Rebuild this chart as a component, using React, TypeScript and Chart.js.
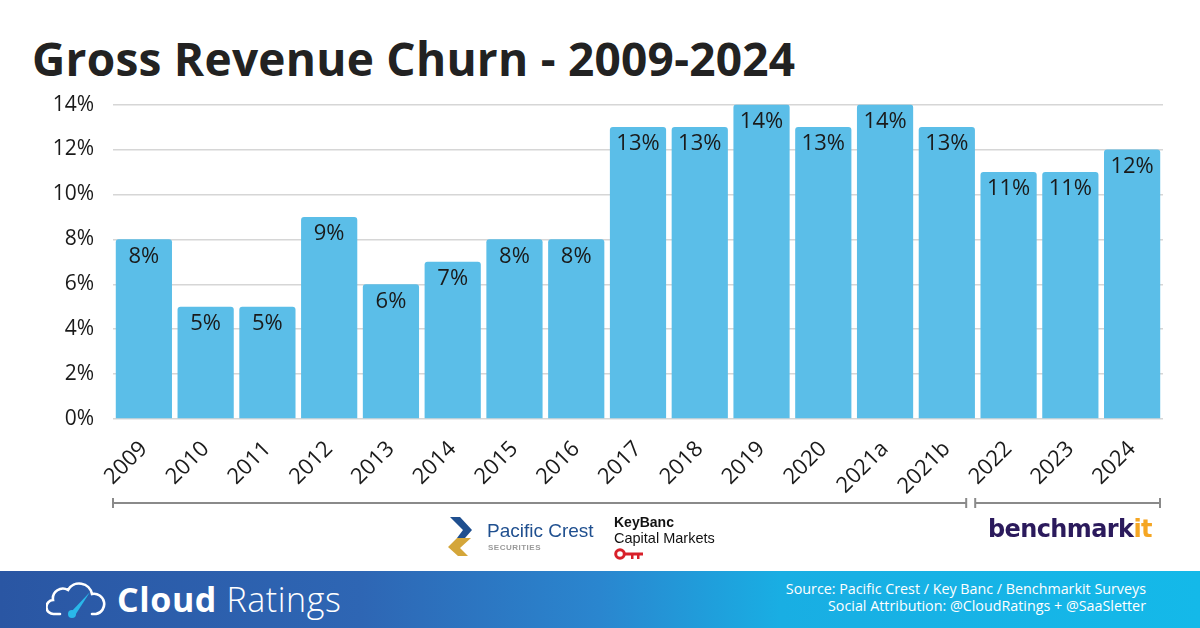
import React, { useEffect, useRef } from "react";
import { Chart, registerables } from "chart.js";

Chart.register(...registerables);

const categories = ["2009", "2010", "2011", "2012", "2013", "2014", "2015", "2016", "2017", "2018", "2019", "2020", "2021a", "2021b", "2022", "2023", "2024"];
const churnValues = [8, 5, 5, 9, 6, 7, 8, 8, 13, 13, 14, 13, 14, 13, 11, 11, 12];
const yTicks = [0, 2, 4, 6, 8, 10, 12, 14];
const titleText = "Gross Revenue Churn - 2009-2024";
const sourceLines = ["Source: Pacific Crest / Key Banc / Benchmarkit Surveys", "Social Attribution: @CloudRatings + @SaaSletter"];
const bracketSplitIndex = 14; // first bracket covers 2009..2021b, second 2022..2024

const FONT = "'Open Sans', 'DejaVu Sans', sans-serif";
const BAR_COLOR = "#5bbee8";

const CANVAS_TOP = 73;
const CANVAS_H = 447;

const labelsPlugin = {
  id: "barLabels",
  afterDatasetsDraw(chart: any) {
    const ctx = chart.ctx;
    const meta = chart.getDatasetMeta(0);
    ctx.save();
    ctx.fillStyle = "#1a1a1a";
    ctx.font = `400 22px ${FONT}`;
    ctx.textAlign = "center";
    ctx.textBaseline = "middle";
    meta.data.forEach((bar: any, i: number) => {
      ctx.fillText(`${churnValues[i]}%`, bar.x, bar.y + 17);
    });
    ctx.restore();
  },
};

const bracketPlugin = {
  id: "brackets",
  afterDraw(chart: any) {
    const ctx = chart.ctx;
    const xs = chart.scales.x;
    const slot = (xs.right - xs.left) / categories.length;
    const y = 503 - CANVAS_TOP;
    const split = xs.left + slot * bracketSplitIndex - 7;
    const segs = [
      [xs.left, split - 4.5],
      [split + 4.5, xs.right - 3],
    ];
    ctx.save();
    ctx.strokeStyle = "#8a8a8a";
    ctx.lineWidth = 2;
    segs.forEach(([a, b]) => {
      ctx.beginPath();
      ctx.moveTo(a, y);
      ctx.lineTo(b, y);
      ctx.moveTo(a, y - 5);
      ctx.lineTo(a, y + 5);
      ctx.moveTo(b, y - 5);
      ctx.lineTo(b, y + 5);
      ctx.stroke();
    });
    ctx.restore();
  },
};

function ChurnChart() {
  const ref = useRef<HTMLCanvasElement | null>(null);
  useEffect(() => {
    if (!ref.current) return;
    const chart = new Chart(ref.current, {
      type: "bar",
      data: {
        labels: categories,
        datasets: [
          {
            data: churnValues,
            backgroundColor: BAR_COLOR,
            borderRadius: 3,
            borderSkipped: "bottom",
            categoryPercentage: 1,
            barPercentage: 0.91,
          },
        ],
      },
      options: {
        animation: false,
        responsive: false,
        maintainAspectRatio: false,
        devicePixelRatio: 1,
        layout: { padding: { left: 0, right: 37, top: 13, bottom: 0 } },
        plugins: { legend: { display: false }, tooltip: { enabled: false } },
        scales: {
          x: {
            grid: { display: false },
            border: { display: false },
            ticks: {
              color: "#1a1a1a",
              font: { family: FONT, size: 22 },
              minRotation: 45,
              maxRotation: 45,
              autoSkip: false,
              padding: 9,
            },
            afterFit(scale: any) {
              scale.height = 101;
            },
          },
          y: {
            min: 0,
            max: 14,
            afterBuildTicks(scale: any) {
              scale.ticks = yTicks.map((v) => ({ value: v }));
            },
            grid: { color: "#d6d6d6", lineWidth: 1.5, drawTicks: false },
            border: { display: false },
            ticks: {
              color: "#1a1a1a",
              font: { family: FONT, size: 21 },
              padding: 19,
              callback: (v: any) => `${v}%`,
            },
            afterFit(scale: any) {
              scale.width = 113;
            },
          },
        },
      },
      plugins: [labelsPlugin, bracketPlugin],
    });
    return () => chart.destroy();
  }, []);
  return (
    <canvas
      ref={ref}
      width={1200}
      height={CANVAS_H}
      style={{ position: "absolute", left: 0, top: CANVAS_TOP, width: 1200, height: CANVAS_H }}
    />
  );
}

function PacificCrestLogo() {
  return (
    <div style={{ position: "absolute", left: 446, top: 514, width: 150, height: 44 }}>
      <svg width="30" height="44" viewBox="0 0 30 44" style={{ position: "absolute", left: 0, top: 0 }}>
        <polygon points="4,3 14,3 26,16 19,24 11,24 17,16" fill="#1f4f8f" />
        <polygon points="17,24 25,24 14,34 22,42 12,42 2,33 11,24" fill="#d4a63a" />
      </svg>
      <div style={{ position: "absolute", left: 41, top: 6, fontFamily: "'Liberation Sans', Arial, sans-serif", fontSize: 19, color: "#1f4f8f", whiteSpace: "nowrap" }}>
        Pacific Crest
      </div>
      <div style={{ position: "absolute", left: 42, top: 29, fontFamily: "'Liberation Sans', Arial, sans-serif", fontSize: 8, fontWeight: 700, color: "#9a9a9a", letterSpacing: 0.5 }}>
        SECURITIES
      </div>
    </div>
  );
}

function KeyBancLogo() {
  return (
    <div style={{ position: "absolute", left: 614, top: 514, width: 110, height: 46, fontFamily: "'Liberation Sans', Arial, sans-serif", color: "#111" }}>
      <div style={{ position: "absolute", left: 0, top: 0, fontSize: 14, fontWeight: 700, whiteSpace: "nowrap" }}>KeyBanc</div>
      <div style={{ position: "absolute", left: 0, top: 16, fontSize: 14.5, whiteSpace: "nowrap" }}>Capital Markets</div>
      <svg width="32" height="12" viewBox="0 0 32 12" style={{ position: "absolute", left: 0, top: 34 }}>
        <circle cx="6" cy="6" r="4.3" fill="none" stroke="#d8202a" strokeWidth="3" />
        <rect x="10" y="4.5" width="19" height="3" fill="#d8202a" />
        <rect x="17" y="7" width="2.5" height="4" fill="#d8202a" />
        <rect x="23" y="7" width="2.5" height="4" fill="#d8202a" />
      </svg>
    </div>
  );
}

function BenchmarkitLogo() {
  return (
    <div style={{ position: "absolute", left: 988, top: 515, fontFamily: "'DejaVu Sans', sans-serif", fontWeight: 700, fontSize: 24, color: "#2b1a5c", whiteSpace: "nowrap", letterSpacing: -0.6 }}>
      benchmark<span style={{ color: "#f5a623" }}>it</span>
    </div>
  );
}

function Footer() {
  return (
    <div
      style={{
        position: "absolute",
        left: 0,
        top: 571,
        width: 1200,
        height: 57,
        background: "linear-gradient(90deg, #2a56a3 0%, #2e66b4 30%, #2a86cf 50%, #19aee3 65%, #14b9e9 100%)",
      }}
    >
      <svg width="60" height="40" viewBox="0 0 60 40" style={{ position: "absolute", left: 46, top: 9 }}>
        <path
          d="M14 34 H8 A7 7 0 0 1 7 20 A10 10 0 0 1 22 10 A13 13 0 0 1 46 14 A10 10 0 0 1 50 34 H46"
          fill="none"
          stroke="#ffffff"
          strokeWidth="2.6"
          strokeLinecap="round"
        />
        <path d="M24 33 L44 12 L28 37 Z" fill="#2ab8ea" />
        <circle cx="26" cy="34" r="4" fill="#2ab8ea" />
      </svg>
      <div style={{ position: "absolute", left: 117, top: 8, fontFamily: "'Open Sans', sans-serif", fontSize: 34, color: "#fff", whiteSpace: "nowrap", lineHeight: "40px", letterSpacing: 0.6 }}>
        <span style={{ fontWeight: 700 }}>Cloud</span>
        <span style={{ fontWeight: 300 }}> Ratings</span>
      </div>
      <div
        style={{
          position: "absolute",
          right: 54,
          top: 10,
          textAlign: "right",
          fontFamily: "'Open Sans', sans-serif",
          fontSize: 14.3,
          lineHeight: "16.5px",
          color: "#fff",
          whiteSpace: "nowrap",
        }}
      >
        {sourceLines.map((l) => (
          <div key={l}>{l}</div>
        ))}
      </div>
    </div>
  );
}

export default function App() {
  return (
    <div style={{ position: "fixed", left: 0, top: 0, width: 1200, height: 628, background: "#fff", overflow: "hidden" }}>
      <div
        style={{
          position: "absolute",
          left: 32,
          top: 28,
          fontFamily: "'Open Sans', sans-serif",
          fontWeight: 700,
          fontSize: 46,
          lineHeight: "60px",
          color: "#222",
          whiteSpace: "nowrap",
          letterSpacing: 0.25,
        }}
      >
        {titleText}
      </div>
      <ChurnChart />
      <PacificCrestLogo />
      <KeyBancLogo />
      <BenchmarkitLogo />
      <Footer />
    </div>
  );
}
